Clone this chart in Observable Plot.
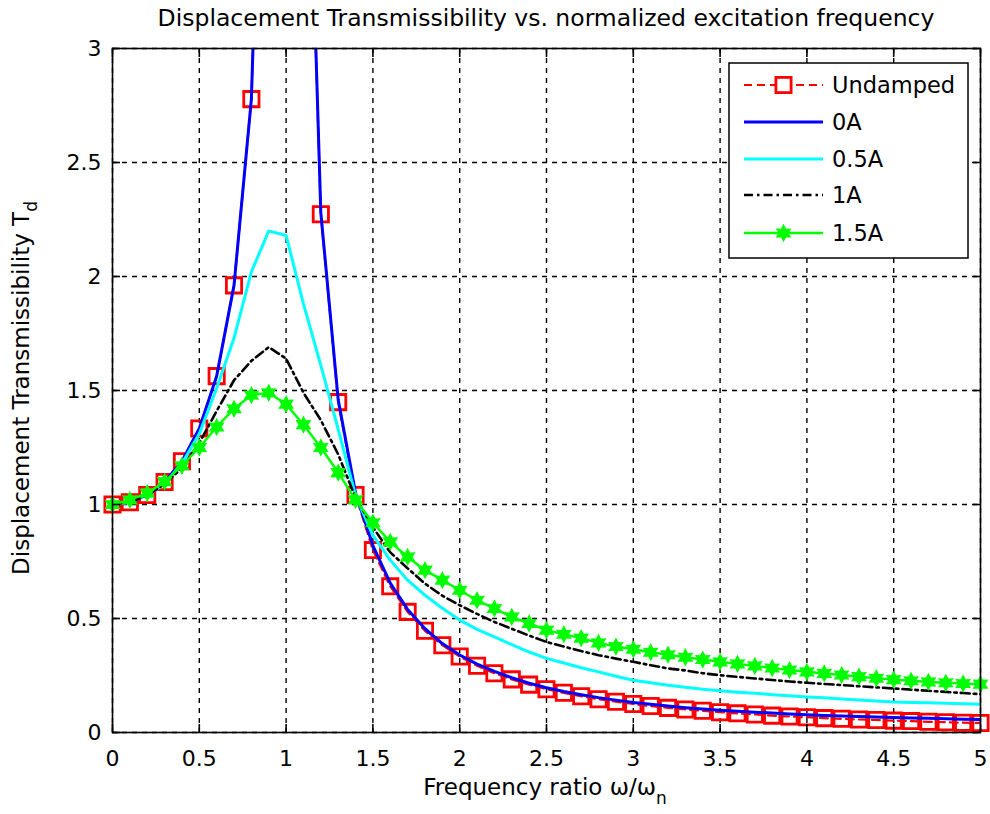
<!DOCTYPE html>
<html>
<head>
<meta charset="utf-8">
<script src="https://cdn.jsdelivr.net/npm/d3@7"></script>
<script src="https://cdn.jsdelivr.net/npm/@observablehq/plot@0.6"></script>
<style>
  body { margin: 0; background: #fff; }
  #title { box-sizing: border-box; width: 990px; height: 36px; line-height: 36px; padding-left: 112px; padding-right: 10px;
           text-align: center; font-family: "DejaVu Sans", sans-serif; font-size: 23.5px; color: #000; white-space: nowrap; }
  #chart svg { display: block; }
</style>
</head>
<body>
<div id="title">Displacement Transmissibility vs. normalized excitation frequency</div>
<div id="chart"></div>
<script>
// ---- data ----
const freqRatio = [0,0.1,0.2,0.3,0.4,0.5,0.6,0.7,0.8,0.9,1.0,1.1,1.2,1.3,1.4,1.5,1.6,1.7,1.8,1.9,2.0,2.1,2.2,2.3,2.4,2.5,2.6,2.7,2.8,2.9,3.0,3.1,3.2,3.3,3.4,3.5,3.6,3.7,3.8,3.9,4.0,4.1,4.2,4.3,4.4,4.5,4.6,4.7,4.8,4.9,5.0];
const undamped = [1.000,1.010,1.042,1.099,1.190,1.333,1.563,1.961,2.778,5.263,null,4.762,2.273,1.449,1.042,0.800,0.641,0.529,0.446,0.383,0.333,0.293,0.260,0.233,0.210,0.190,0.174,0.159,0.146,0.135,0.125,0.116,0.108,0.101,0.095,0.089,0.084,0.079,0.074,0.070,0.067,0.063,0.060,0.057,0.055,0.052,0.050,0.047,0.045,0.043,0.042];
const amp0 = [1.000,1.010,1.042,1.099,1.190,1.333,1.563,1.961,2.778,5.2,40,4.8,2.28,1.46,1.05,0.82,0.655,0.54,0.455,0.39,0.34,0.30,0.268,0.24,0.216,0.196,0.18,0.166,0.153,0.142,0.132,0.124,0.116,0.109,0.103,0.098,0.093,0.089,0.085,0.081,0.078,0.075,0.072,0.070,0.068,0.066,0.064,0.062,0.060,0.058,0.057];
const amp05 = [1.00,1.01,1.04,1.09,1.18,1.31,1.51,1.73,2.02,2.20,2.18,1.88,1.61,1.33,1.04,0.865,0.756,0.668,0.602,0.545,0.493,0.452,0.419,0.385,0.353,0.325,0.305,0.284,0.266,0.247,0.229,0.218,0.207,0.198,0.19,0.183,0.177,0.172,0.166,0.161,0.156,0.152,0.147,0.143,0.138,0.134,0.132,0.130,0.128,0.126,0.124];
const amp1 = [1.00,1.01,1.04,1.09,1.16,1.27,1.41,1.545,1.63,1.69,1.64,1.49,1.37,1.22,1.03,0.90,0.79,0.72,0.653,0.60,0.558,0.52,0.485,0.455,0.425,0.397,0.377,0.357,0.339,0.324,0.31,0.295,0.281,0.272,0.26,0.251,0.244,0.237,0.23,0.224,0.218,0.213,0.208,0.203,0.198,0.193,0.188,0.183,0.178,0.173,0.168];
const amp15 = [1.00,1.02,1.05,1.10,1.17,1.25,1.34,1.42,1.48,1.49,1.44,1.35,1.25,1.14,1.02,0.92,0.836,0.77,0.712,0.668,0.624,0.58,0.544,0.507,0.478,0.449,0.431,0.414,0.393,0.377,0.365,0.352,0.341,0.33,0.32,0.31,0.301,0.292,0.283,0.274,0.266,0.259,0.252,0.245,0.238,0.232,0.227,0.222,0.218,0.215,0.212];
const seriesNames = ["Undamped", "0A", "0.5A", "1A", "1.5A"];
const seriesValues = [undamped, amp0, amp05, amp1, amp15];
const xTicks = [0,0.5,1,1.5,2,2.5,3,3.5,4,4.5,5];
const yTicks = [0,0.5,1,1.5,2,2.5,3];

// ---- styles ----
const styles = {
  "Undamped": {stroke: "#ff0000", width: 2.2, dash: "8,5", marker: "square"},
  "0A":       {stroke: "#0000ff", width: 3, dash: null, marker: null},
  "0.5A":     {stroke: "#00ffff", width: 3, dash: null, marker: null},
  "1A":       {stroke: "#000000", width: 2.6, dash: "9,4,2.5,4", marker: null},
  "1.5A":     {stroke: "#00ff00", width: 2.5, dash: null, marker: "hexagram"}
};
const hexagram = {
  draw(ctx, size) {
    const R = Math.sqrt(size / Math.PI), r = R * 0.55;
    for (let k = 0; k < 12; k++) {
      const a = -Math.PI / 2 + k * Math.PI / 6, rr = k % 2 ? r : R;
      const px = rr * Math.cos(a), py = rr * Math.sin(a);
      if (k) ctx.lineTo(px, py); else ctx.moveTo(px, py);
    }
    ctx.closePath();
  }
};

const rows = seriesNames.flatMap((name, s) => freqRatio.map((x, i) => ({x, y: seriesValues[s][i], series: name})));
const seriesRows = name => rows.filter(d => d.series === name);

const marks = [
  Plot.gridX({ticks: xTicks, stroke: "#000", strokeOpacity: 1, strokeWidth: 1.4, strokeDasharray: "5,5"}),
  Plot.gridY({ticks: yTicks, stroke: "#000", strokeOpacity: 1, strokeWidth: 1.4, strokeDasharray: "5,5"})
];
for (const name of seriesNames) {
  const st = styles[name];
  marks.push(Plot.line(seriesRows(name), {x: "x", y: "y", stroke: st.stroke, strokeWidth: st.width, strokeDasharray: st.dash, clip: true}));
  if (st.marker === "square") {
    marks.push(Plot.dot(seriesRows(name), {x: "x", y: "y", filter: d => d.y != null && d.y <= 3, symbol: "square", r: 8.6, stroke: st.stroke, strokeWidth: 2.8, fill: "none"}));
  } else if (st.marker === "hexagram") {
    marks.push(Plot.dot(seriesRows(name), {x: "x", y: "y", filter: d => d.y != null && d.y <= 3, symbol: hexagram, r: 7, stroke: st.stroke, strokeWidth: 2, fill: st.stroke}));
  }
}
marks.push(
  Plot.frame({stroke: "#000", strokeWidth: 1.6}),
  Plot.axisX({anchor: "bottom", ticks: xTicks, tickSize: -8, fill: "none", label: null, strokeWidth: 1.6}),
  Plot.axisX({anchor: "top", ticks: xTicks, tickSize: -8, fill: "none", label: null, strokeWidth: 1.6}),
  Plot.axisY({anchor: "left", ticks: yTicks, tickSize: -8, fill: "none", label: null, strokeWidth: 1.6}),
  Plot.axisY({anchor: "right", ticks: yTicks, tickSize: -8, fill: "none", label: null, strokeWidth: 1.6}),
  Plot.axisX({anchor: "bottom", ticks: xTicks, tickSize: 0, tickPadding: 18, tickFormat: d => String(d), label: null, fontSize: 22}),
  Plot.axisY({anchor: "left", ticks: yTicks, tickSize: 0, tickPadding: 11, tickFormat: d => String(d), label: null, fontSize: 22})
);

const svg = Plot.plot({
  width: 990, height: 778,
  marginTop: 12, marginRight: 10, marginBottom: 82, marginLeft: 112,
  style: {fontFamily: "DejaVu Sans, sans-serif", fontSize: "22px", color: "#000", background: "#fff", overflow: "visible"},
  x: {domain: [0, 5]},
  y: {domain: [0, 3]},
  marks
});
document.getElementById("chart").appendChild(svg);

// ---- axis labels with subscripts ----
const s = d3.select(svg);
const xl = s.append("text").attr("x", 545).attr("y", 759).attr("text-anchor", "middle")
  .attr("font-family", "DejaVu Sans, sans-serif").attr("font-size", 23).attr("fill", "#000");
xl.append("tspan").text("Frequency ratio ω/ω");
xl.append("tspan").attr("dy", 9).attr("font-size", 17).text("n");

const yl = s.append("text").attr("transform", "translate(29,352) rotate(-90)").attr("text-anchor", "middle")
  .attr("font-family", "DejaVu Sans, sans-serif").attr("font-size", 23).attr("fill", "#000");
yl.append("tspan").text("Displacement Transmissibility T");
yl.append("tspan").attr("dy", 8).attr("font-size", 17).text("d");

// ---- legend ----
const lg = s.append("g").attr("font-family", "DejaVu Sans, sans-serif").attr("font-size", 22.5).attr("text-anchor", "start");
lg.append("rect").attr("x", 729).attr("y", 27).attr("width", 239).attr("height", 195)
  .attr("fill", "#fff").attr("stroke", "#000").attr("stroke-width", 1.5);
const legendY = [49, 86, 123, 159, 197];
seriesNames.forEach((name, i) => {
  const st = styles[name], yy = legendY[i];
  lg.append("line").attr("x1", 744).attr("x2", 823).attr("y1", yy).attr("y2", yy)
    .attr("stroke", st.stroke).attr("stroke-width", st.width).attr("stroke-dasharray", st.dash);
  if (st.marker === "square") {
    lg.append("rect").attr("x", 783.5 - 7.6).attr("y", yy - 7.6).attr("width", 15.2).attr("height", 15.2)
      .attr("fill", "#fff").attr("stroke", st.stroke).attr("stroke-width", 2.8);
  } else if (st.marker === "hexagram") {
    const p = d3.path(); hexagram.draw(p, Math.PI * 7 * 7);
    lg.append("path").attr("d", p.toString()).attr("transform", `translate(783.5,${yy})`)
      .attr("fill", st.stroke).attr("stroke", st.stroke).attr("stroke-width", 2);
  }
  lg.append("text").attr("x", 832).attr("y", yy).attr("dy", "0.36em").attr("text-anchor", "start").attr("fill", "#000").text(name);
});
</script>
</body>
</html>
